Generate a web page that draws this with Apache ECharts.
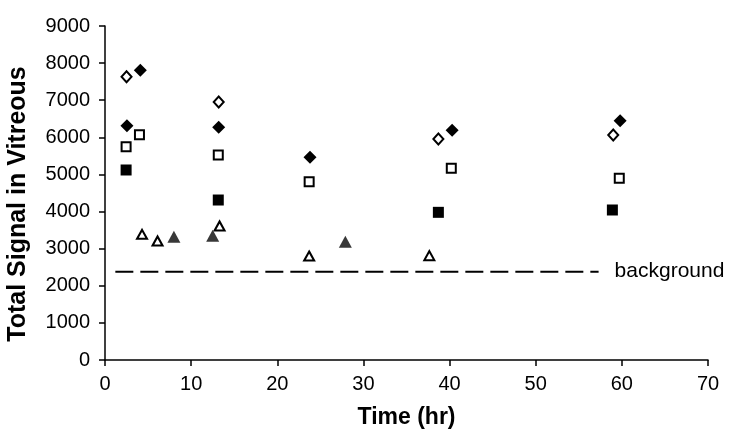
<!DOCTYPE html>
<html>
<head>
<meta charset="utf-8">
<script src="https://cdn.jsdelivr.net/npm/echarts@6/dist/echarts.min.js"></script>
<style>
html,body{margin:0;padding:0;background:#fff;}
#chart{width:750px;height:436px;}
</style>
</head>
<body>
<div id="chart"></div>
<script>
// Data: [time (hr), total signal]
const openDiamond   = [[2.5,7634],[13.2,6952],[38.7,5955],[59.0,6063]];
const filledDiamond = [[4.1,7806],[2.55,6314],[13.2,6270],[23.8,5462],[40.3,6189],[59.8,6449]];
const openSquare    = [[4.0,6072],[2.45,5749],[13.15,5524],[23.7,4805],[40.2,5165],[59.7,4896]];
const filledSquare  = [[2.45,5120],[13.15,4311],[38.7,3979],[58.9,4042]];
const openTriangle  = [[4.3,3387],[6.1,3207],[13.3,3611],[23.7,2802],[37.65,2811]];
const filledTriangle= [[8.0,3323],[12.5,3350],[27.9,3189]];
const backgroundLevel = 2380;
const backgroundSpan = [1.2, 57.3];
const backgroundLabel = 'background';
const xTicks = [0,10,20,30,40,50,60,70];
const yTicks = [0,1000,2000,3000,4000,5000,6000,7000,8000,9000];
const xTitle = 'Time (hr)';
const yTitle = 'Total Signal in Vitreous';

const FONT = '"Liberation Sans", Arial, Helvetica, sans-serif';
const chart = echarts.init(document.getElementById('chart'), null, {renderer:'canvas'});

function scatter(name, data, symbol, size, filled, color){
  return {
    name, type:'scatter', data, symbol, symbolSize:size,
    itemStyle: filled ? {color:color, borderWidth:0, opacity:1}
                      : {color:'#fff', borderColor:'#000', borderWidth:2, opacity:1},
    silent:true
  };
}

chart.setOption({
  animation:false,
  backgroundColor:'#fff',
  grid:{left:105, right:42, top:26, bottom:76, containLabel:false, outerBoundsMode:'none'},
  xAxis:{
    type:'value', min:xTicks[0], max:xTicks[xTicks.length-1], interval:10,
    name:xTitle, nameLocation:'middle', nameGap:46,
    nameTextStyle:{fontFamily:FONT, fontSize:23, fontWeight:'bold', color:'#000'},
    axisLine:{show:true, onZero:false, lineStyle:{color:'#000', width:1.5}},
    axisTick:{show:true, inside:false, length:6, lineStyle:{color:'#000', width:1.5}},
    axisLabel:{fontFamily:FONT, fontSize:20, color:'#000', margin:14,
      formatter:v => String(v)},
    splitLine:{show:false}
  },
  yAxis:{
    type:'value', min:yTicks[0], max:yTicks[yTicks.length-1], interval:1000,
    name:yTitle, nameLocation:'middle', nameGap:74,
    nameTextStyle:{fontFamily:FONT, fontSize:25, fontWeight:'bold', color:'#000', padding:[0,22,0,0]},
    axisLine:{show:true, onZero:false, lineStyle:{color:'#000', width:1.5}},
    axisTick:{show:true, inside:false, length:6, lineStyle:{color:'#000', width:1.5}},
    axisLabel:{fontFamily:FONT, fontSize:20, color:'#000', margin:15,
      formatter:v => String(v)},
    splitLine:{show:false}
  },
  series:[
    {
      name:'background', type:'line', silent:true,
      data:[[backgroundSpan[0],backgroundLevel],[backgroundSpan[1],backgroundLevel]],
      symbol:'none',
      lineStyle:{color:'#000', width:2, type:[18,7]},
      endLabel:{show:true, formatter:backgroundLabel, distance:16,
        fontFamily:FONT, fontSize:21, color:'#000'}
    },
    scatter('openDiamond', openDiamond, 'diamond', [10,11], false),
    scatter('filledDiamond', filledDiamond, 'diamond', [13,13], true, '#000'),
    scatter('openSquare', openSquare, 'rect', [9,9], false),
    scatter('filledSquare', filledSquare, 'rect', [11,11], true, '#000'),
    scatter('openTriangle', openTriangle, 'triangle', [10,9], false),
    scatter('filledTriangle', filledTriangle, 'triangle', [13,12], true, '#383838')
  ]
});
</script>
</body>
</html>
